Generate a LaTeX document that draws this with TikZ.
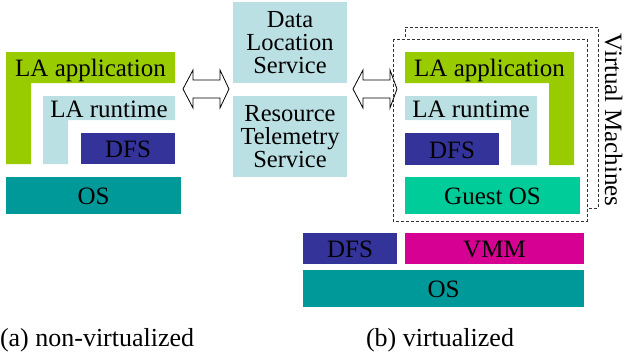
\documentclass[tikz,border=0pt]{standalone}
\usepackage{fontspec}
\setmainfont{Liberation Serif}
\definecolor{lagreen}{HTML}{99CC00}
\definecolor{rtblue}{HTML}{BBE0E3}
\definecolor{dfsblue}{HTML}{333399}
\definecolor{osteal}{HTML}{009999}
\definecolor{guestgreen}{HTML}{00CC99}
\definecolor{vmmpink}{RGB}{214,0,147}
\begin{document}
\begin{tikzpicture}[x=1pt,y=-1pt,
  font=\fontsize{25}{22.5}\selectfont,
  lbl/.style={inner sep=0pt, outer sep=0pt, text height=18pt, text depth=0pt},
  blk/.style={lbl, anchor=north west},
  svc/.style={inner sep=0pt, outer sep=0pt, anchor=north west, fill=rtblue, align=center,
              minimum width=114pt, minimum height=81pt, font=\fontsize{24.5}{23.2}\selectfont},
  vmframe/.style={draw=black!80, line width=0.8pt, dash pattern=on 3pt off 2pt},
  blockarrow/.style={draw=black, line width=0.8pt, fill=white, line join=miter},
  caption/.style={inner sep=0pt, outer sep=0pt, anchor=base west, font=\fontsize{26}{26}\selectfont}]
\useasboundingbox (0,0) rectangle (624,356);

% ---------- (a) non-virtualized stack ----------
\fill[lagreen] (6,52) -- (175,52) -- (175,83) -- (31,83) -- (31,164) -- (6,164) -- cycle;
\node[lbl] (appA) at (90.5,67.5) {LA application};
\fill[rtblue] (43,96) -- (175,96) -- (175,120) -- (68,120) -- (68,164) -- (43,164) -- cycle;
\node[lbl] (rtA) at (109,108) {LA runtime};
\node[blk, fill=dfsblue, minimum width=94pt, minimum height=31pt] (dfsA) at (81,133) {DFS};
\node[blk, fill=osteal, minimum width=175pt, minimum height=37pt] (osA) at (6,177) {OS};

% ---------- shared services ----------
\node[svc] (dls) at (233,2) {Data\\Location\\Service};
\node[svc] (rts) at (233,96) {Resource\\Telemetry\\Service};

% ---------- double block arrows ----------
\draw[blockarrow] (183,89) -- (193,70) -- (193,80) -- (220,80) -- (220,70) -- (229,89)
  -- (220,108) -- (220,98) -- (193,98) -- (193,108) -- cycle;
\draw[blockarrow] (353,89) -- (363,70) -- (363,80) -- (390,80) -- (390,70) -- (397,89)
  -- (390,108) -- (390,98) -- (363,98) -- (363,108) -- cycle;

% ---------- virtual machine frames ----------
\draw[vmframe] (405,37) -- (405,27) -- (598,27) -- (598,208) -- (587,208);
\draw[vmframe] (393,39) rectangle (587,221);
\node[lbl, rotate=-90] (vmlabel) at (614,120) {Virtual Machines};

% ---------- (b) guest stack ----------
\fill[lagreen] (405,52) -- (574,52) -- (574,165) -- (549,165) -- (549,83) -- (405,83) -- cycle;
\node[lbl] (appB) at (489.5,67.5) {LA application};
\fill[rtblue] (405,96) -- (537,96) -- (537,165) -- (511,165) -- (511,120) -- (405,120) -- cycle;
\node[lbl] (rtB) at (471,108) {LA runtime};
\node[blk, fill=dfsblue, minimum width=94pt, minimum height=32pt] (dfsB) at (405,133) {DFS};
\node[blk, fill=guestgreen, minimum width=175pt, minimum height=37pt] (guest) at (405,177) {Guest OS};

% ---------- host layers ----------
\node[blk, fill=dfsblue, minimum width=94pt, minimum height=31pt] (dfsH) at (303,233) {DFS};
\node[blk, fill=vmmpink, minimum width=179pt, minimum height=31pt] (vmm) at (405,233) {VMM};
\node[blk, fill=osteal, minimum width=281pt, minimum height=37pt] (osH) at (303,270) {OS};

% ---------- captions ----------
\node[caption] (capA) at (0,346) {(a) non-virtualized};
\node[caption] (capB) at (366,346) {(b) virtualized};
\end{tikzpicture}
\end{document}
